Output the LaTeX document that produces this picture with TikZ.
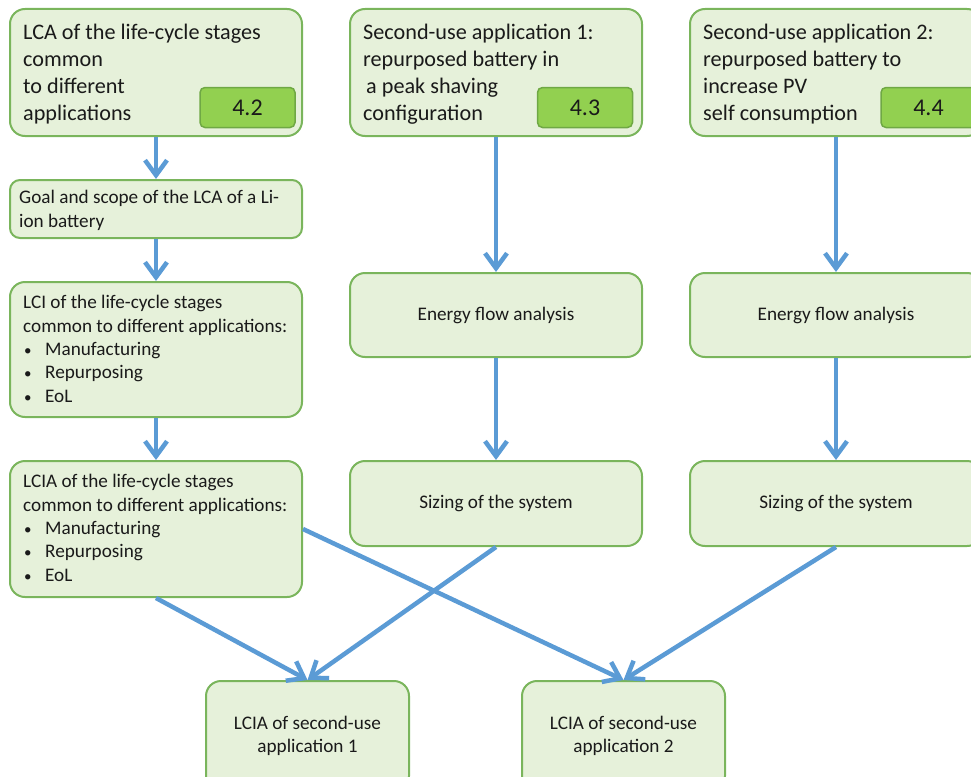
\documentclass[tikz,border=0pt]{standalone}
\usepackage{fontspec}
\setmainfont{Carlito}
\usetikzlibrary{arrows.meta}
\definecolor{boxfill}{HTML}{E6F1DA}
\definecolor{boxline}{HTML}{7AB55C}
\definecolor{badgefill}{HTML}{92D050}
\definecolor{badgeline}{HTML}{6FA844}
\definecolor{flow}{HTML}{5B9BD5}
\definecolor{ink}{HTML}{1A1A1A}
% list item marker: a small bullet followed by the text indent
\newcommand{\itemdot}{\makebox[22pt][l]{\hspace*{1pt}{\fontsize{15}{15}\selectfont\textbullet}}}
\begin{document}
\begin{tikzpicture}[x=1pt,y=-1pt,
  stage/.style={draw=boxline, fill=boxfill, line width=2pt, rounded corners=15pt,
    inner sep=0pt, minimum width=292pt, text=ink, align=center,
    font=\fontsize{19.2}{23.5}\selectfont},
  badge/.style={draw=badgeline, fill=badgefill, line width=1.5pt, rounded corners=5pt,
    minimum width=95pt, minimum height=40pt, inner sep=0pt, text=ink,
    font=\fontsize{24}{28}\selectfont},
  % multi-line texts are placed by the baseline of their last line
  bigtext/.style={anchor=base west, align=left, inner sep=0pt, text=ink,
    font=\fontsize{22.2}{27}\selectfont},
  smalltext/.style={anchor=base west, align=left, inner sep=0pt, text=ink,
    font=\fontsize{19.2}{23.3}\selectfont},
  flowarrow/.style={draw=flow, line width=4.5pt, -{Straight Barb[length=15pt,width=22pt]}},
]
\path[use as bounding box] (0,0) rectangle (971,776);
\clip (0,0) rectangle (971,776);

% ---- left column: common life-cycle stages
\node[stage, minimum height=127pt] (lca)  at (156,72.5) {};
\node[stage, minimum height=58pt, rounded corners=10pt] (goal) at (156,209) {};
\node[stage, minimum height=135pt] (lci)  at (156,349.5) {};
\node[stage, minimum height=136pt] (lcia) at (156,529) {};

% ---- middle column: application 1
\node[stage, minimum height=127pt] (app1) at (496,72.5) {};
\node[stage, minimum height=84pt] (ef1) at (496,315) {Energy flow analysis};
\node[stage, minimum height=85pt] (sz1) at (496,503.5) {Sizing of the system};

% ---- right column: application 2
\node[stage, minimum height=127pt] (app2) at (836,72.5) {};
\node[stage, minimum height=84pt] (ef2) at (836,315) {Energy flow analysis};
\node[stage, minimum height=85pt] (sz2) at (836,503.5) {Sizing of the system};

% ---- bottom: results per application
\node[stage, minimum width=203pt, minimum height=110pt] (res1) at (307.5,736)
  {LCIA of second-use\\application 1};
\node[stage, minimum width=203pt, minimum height=110pt] (res2) at (623.5,736)
  {LCIA of second-use\\application 2};

% ---- section badges
\node[badge] (b42) at (247.5,107.5) {4.2};
\node[badge] (b43) at (585,107.5) {4.3};
\node[badge] (b44) at (928.5,107.5) {4.4};

% ---- box texts
\node[bigtext] (tlca) at (23,120)
  {LCA of the life-cycle stages\\common\\to different\\applications};
\node[bigtext] (tapp1) at (363,120)
  {Second-use application 1:\\repurposed battery in\\\hspace*{3pt}a peak shaving\\configuration};
\node[bigtext] (tapp2) at (703,120)
  {Second-use application 2:\\repurposed battery to\\increase PV\\self consumption};
\node[smalltext] (tgoal) at (19,227)
  {Goal and scope of the LCA of a Li-\\ion battery};
\node[smalltext] (tlci) at (23,402)
  {LCI of the life-cycle stages\\common to different applications:\\
   \itemdot Manufacturing\\
   \itemdot Repurposing\\
   \itemdot EoL};
\node[smalltext] (tlcia) at (23,581)
  {LCIA of the life-cycle stages\\common to different applications:\\
   \itemdot Manufacturing\\
   \itemdot Repurposing\\
   \itemdot EoL};

% ---- flows
\draw[flowarrow] (lca) -- (goal);
\draw[flowarrow] (goal) -- (lci);
\draw[flowarrow] (lci) -- (lcia);
\draw[flowarrow] (app1) -- (ef1);
\draw[flowarrow] (ef1) -- (sz1);
\draw[flowarrow] (app2) -- (ef2);
\draw[flowarrow] (ef2) -- (sz2);
\draw[flowarrow] (lcia.south) -- (res1.north);
\draw[flowarrow] (sz1.south) -- (res1.north);
\draw[flowarrow] (lcia.east) -- (res2.north);
\draw[flowarrow] (sz2.south) -- (res2.north);
\end{tikzpicture}
\end{document}
